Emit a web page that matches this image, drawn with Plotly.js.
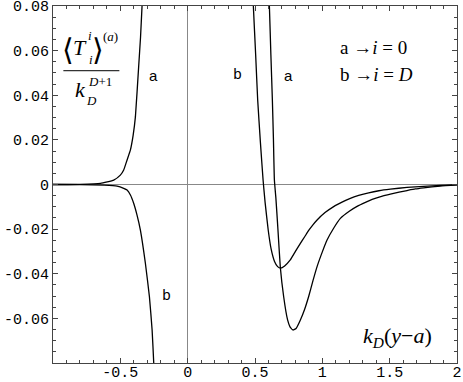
<!DOCTYPE html>
<html>
<head>
<meta charset="utf-8">
<script src="https://cdn.plot.ly/plotly-3.0.1.min.js"></script>
<style>
  body { margin: 0; background: #fff; }
  #plot { width: 463px; height: 382px; }
</style>
</head>
<body>
<div id="plot"></div>
<script>
// curve a, branch left of the wall
const aLeftX = [-1, -0.8, -0.648, -0.549, -0.5, -0.475, -0.45, -0.425, -0.405, -0.388, -0.364, -0.35, -0.339, -0.333];
const aLeftY = [0, 0.0001, 0.0005, 0.002, 0.0042, 0.0065, 0.011, 0.0155, 0.022, 0.0304, 0.0528, 0.066, 0.0797, 0.086];

// curve b, branch left of the wall
const bLeftX = [-1, -0.8, -0.62, -0.524, -0.475, -0.45, -0.425, -0.401, -0.376, -0.351, -0.314, -0.284, -0.264, -0.252, -0.249];
const bLeftY = [0, -0.0001, -0.0003, -0.0007, -0.0017, -0.0025, -0.0047, -0.0084, -0.0137, -0.0204, -0.0353, -0.0503, -0.0652, -0.080, -0.085];

// curve a, branch right of the wall
const aRightX = [0.603, 0.607, 0.618, 0.629, 0.637, 0.644, 0.655, 0.67, 0.688, 0.713, 0.742, 0.76, 0.782, 0.805, 0.837, 0.868, 0.898, 0.93, 0.961, 1.0, 1.035, 1.085, 1.134, 1.2, 1.258, 1.32, 1.37, 1.44, 1.505, 1.57, 1.629, 1.69, 1.752, 1.876, 2.0];
const aRightY = [0.086, 0.0797, 0.058, 0.0379, 0.02, 0.002, -0.006, -0.0198, -0.0371, -0.0503, -0.0607, -0.0638, -0.0652, -0.0645, -0.0607, -0.056, -0.0503, -0.0432, -0.0368, -0.0302, -0.0249, -0.0195, -0.0152, -0.012, -0.0098, -0.008, -0.0067, -0.0053, -0.0043, -0.0034, -0.0027, -0.002, -0.0015, -0.0007, -0.0002];

// curve b, branch right of the wall
const bRightX = [0.484, 0.488, 0.505, 0.52, 0.54, 0.56, 0.575, 0.598, 0.62, 0.645, 0.668, 0.69, 0.72, 0.762, 0.80, 0.837, 0.87, 0.90, 0.93, 0.961, 1.02, 1.084, 1.15, 1.208, 1.27, 1.344, 1.42, 1.505, 1.629, 1.752, 1.876, 2.0];
const bRightY = [0.086, 0.0797, 0.058, 0.0379, 0.019, 0.002, -0.008, -0.0204, -0.029, -0.0345, -0.0368, -0.0375, -0.0365, -0.0338, -0.030, -0.0264, -0.0233, -0.0205, -0.0181, -0.0159, -0.0126, -0.0099, -0.0078, -0.0062, -0.0049, -0.0037, -0.0028, -0.0021, -0.0013, -0.0008, -0.0004, -0.0002];

const xTickVals = [-0.5, 0, 0.5, 1, 1.5, 2];
const xTickText = ['-0.5', '0', '0.5', '1', '1.5', '2'];
const yTickVals = [-0.06, -0.04, -0.02, 0, 0.02, 0.04, 0.06, 0.08];
const yTickText = ['-0.06', '-0.04', '-0.02', '0', '0.02', '0.04', '0.06', '0.08'];

const lineStyle = { color: '#000', width: 1.3, shape: 'spline', smoothing: 0.4 };

function curve(x, y) {
    return { x: x, y: y, type: 'scatter', mode: 'lines', line: lineStyle, hoverinfo: 'skip' };
}

const traces = [
    curve(aLeftX, aLeftY),
    curve(bLeftX, bLeftY),
    curve(aRightX, aRightY),
    curve(bRightX, bRightY)
];

const serif = 'Liberation Serif, Times New Roman, serif';

function label(x, y, text, size, family, anchor) {
    return {
        x: x, y: y, xref: 'x', yref: 'y', text: text, showarrow: false,
        xanchor: anchor || 'center', yanchor: 'middle',
        font: { family: family, size: size, color: '#000' }
    };
}

const annotations = [
    // curve labels
    label(-0.255, 0.049, 'a', 15, 'Liberation Sans, Arial, sans-serif'),
    label(-0.158, -0.050, 'b', 15, 'Liberation Mono, Courier New, monospace'),
    label(0.369, 0.049, 'b', 15, 'Liberation Mono, Courier New, monospace'),
    label(0.748, 0.049, 'a', 15, 'Liberation Sans, Arial, sans-serif'),
    // key
    label(1.119, 0.0616, 'a \u2192<i>i</i> = 0', 19, serif, 'left'),
    label(1.119, 0.0495, 'b \u2192<i>i</i> = <i>D</i>', 19, serif, 'left'),
    // x axis name
    label(1.56, -0.0684, '<i>k</i><sub><i>D</i></sub>(<i>y</i>\u2212<i>a</i>)', 22, serif),
    // y axis name, drawn as a fraction
    label(-0.889, 0.0603, '\u27E8', 30, 'DejaVu Sans, sans-serif'),
    label(-0.800, 0.0616, '<i>T</i>', 22, serif),
    label(-0.722, 0.0668, '<i>i</i>', 13, serif),
    label(-0.716, 0.0560, '<i>i</i>', 13, serif),
    label(-0.667, 0.0603, '\u27E9', 30, 'DejaVu Sans, sans-serif'),
    label(-0.572, 0.0663, '(<i>a</i>)', 13, serif),
    label(-0.797, 0.0428, '<i>k</i>', 22, serif),
    label(-0.713, 0.0376, '<i>D</i>', 13, serif),
    label(-0.648, 0.0460, '<i>D</i>+1', 13, serif)
];

const axisCommon = {
    showline: true, linecolor: '#444', linewidth: 1, mirror: 'ticks',
    ticks: 'inside', ticklen: 5, tickwidth: 1, tickcolor: '#444',
    showgrid: false, zeroline: true, zerolinecolor: '#888', zerolinewidth: 1,
    tickfont: { family: 'Liberation Mono, Courier New, monospace', size: 15, color: '#000' },
    tickmode: 'array', ticklabeloverflow: 'allow', fixedrange: true
};

const layout = {
    width: 463, height: 382,
    margin: { l: 53, r: 6, t: 6, b: 19 },
    paper_bgcolor: '#fff', plot_bgcolor: '#fff',
    showlegend: false,
    xaxis: Object.assign({}, axisCommon, {
        range: [-1, 2], tickvals: xTickVals, ticktext: xTickText, ticklabelstandoff: -5,
        minor: { tickmode: 'linear', tick0: 0, dtick: 0.1, ticklen: 3, tickcolor: '#444', ticks: 'inside' }
    }),
    yaxis: Object.assign({}, axisCommon, {
        range: [-0.08, 0.08], tickvals: yTickVals, ticktext: yTickText,
        minor: { tickmode: 'linear', tick0: 0, dtick: 0.005, ticklen: 3, tickcolor: '#444', ticks: 'inside' }
    }),
    shapes: [
        { type: 'line', xref: 'x', yref: 'y', x0: -0.923, x1: -0.507, y0: 0.051, y1: 0.051,
          line: { color: '#000', width: 1 } }
    ],
    annotations: annotations
};

Plotly.newPlot('plot', traces, layout, { staticPlot: true, displayModeBar: false });
</script>
</body>
</html>
